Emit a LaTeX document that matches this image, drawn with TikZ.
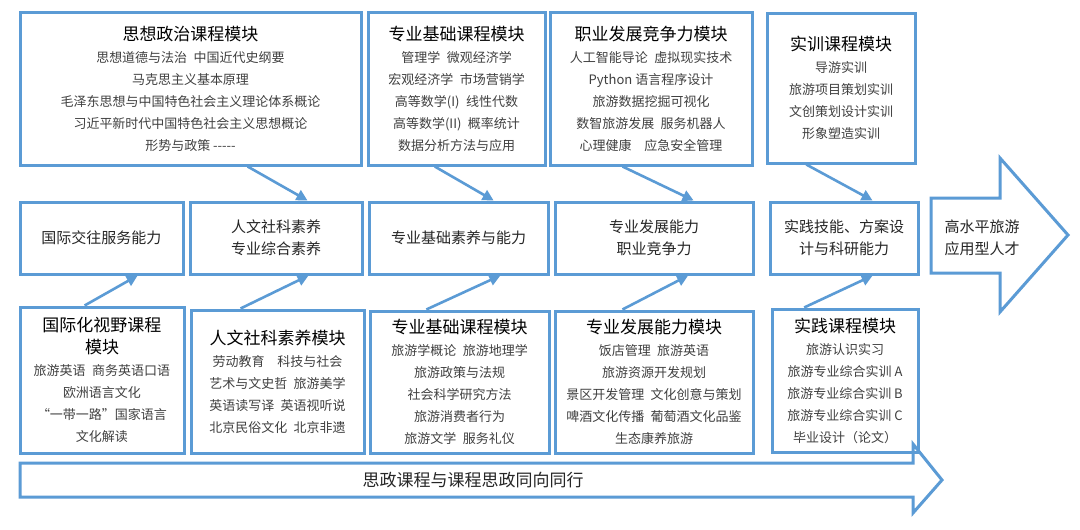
\documentclass[tikz,border=0pt]{standalone}
\usepackage{fontspec}
\setmainfont{Noto Sans CJK SC}
\usetikzlibrary{arrows.meta}
\usetikzlibrary{calc}

\definecolor{modblue}{RGB}{91,155,213}
\definecolor{bodygray}{RGB}{64,64,64}
\newcommand\modtitle[1]{{\fontsize{17}{22}\selectfont\color{black}#1}}

\begin{document}
\begin{tikzpicture}[x = 1pt, y = -1pt,
	modbox/.style = {draw = modblue, line width = 3pt, align = center, inner sep = 0pt, text = bodygray, font = \fontsize{13}{22}\selectfont},
	abbox/.style = {draw = modblue, line width = 3pt, align = center, inner sep = 0pt, minimum height = 72pt, text = black!85, font = \fontsize{15}{22}\selectfont},
	link/.style = {draw = modblue, line width = 2.6pt, -{Triangle[length = 11pt, width = 11pt]}}]
				\fill[white] (0, 0) rectangle (1080, 530);
				\useasboundingbox (0, 0) rectangle (1080, 530);
				% top row: course modules
				\node[modbox, minimum width = 341pt, minimum height = 153pt] (polmod) at (190.5, 88.5) {\modtitle{思想政治课程模块}\\ 思想道德与法治\enspace 中国近代史纲要\\ 马克思主义基本原理\\ 毛泽东思想与中国特色社会主义理论体系概论\\ 习近平新时代中国特色社会主义思想概论\\ 形势与政策 -{}-{}-{}-{}-};
				\node[modbox, minimum width = 177pt, minimum height = 153pt] (basemod) at (456.5, 88.5) {\modtitle{专业基础课程模块}\\ 管理学\enspace 微观经济学\\ 宏观经济学\enspace 市场营销学\\ 高等数学(I)\enspace 线性代数\\ 高等数学(II)\enspace 概率统计\\ 数据分析方法与应用};
				\node[modbox, minimum width = 202pt, minimum height = 153pt] (careermod) at (651, 88.5) {\modtitle{职业发展竞争力模块}\\ 人工智能导论\enspace 虚拟现实技术\\ Python 语言程序设计\\ 旅游数据挖掘可视化\\ 数智旅游发展\enspace 服务机器人\\ 心理健康\quad 应急安全管理};
				\node[modbox, minimum width = 148pt, minimum height = 150pt] (trainmod) at (841, 88) {\modtitle{实训课程模块}\\ 导游实训\\ 旅游项目策划实训\\ 文创策划设计实训\\ 形象塑造实训};
				% middle row: abilities
				\node[abbox, minimum width = 163pt] (intlab) at (101.5, 238) {国际交往服务能力};
				\node[abbox, minimum width = 172pt] (humab) at (276, 238) {人文社科素养\\ 专业综合素养};
				\node[abbox, minimum width = 179pt] (baseab) at (458.5, 238) {专业基础素养与能力};
				\node[abbox, minimum width = 198pt] (devab) at (654, 238) {专业发展能力\\ 职业竞争力};
				\node[abbox, minimum width = 148pt] (pracab) at (844, 238) {实践技能、方案设\\ 计与科研能力};
				% bottom row: course modules
				\node[modbox, minimum width = 164pt, minimum height = 146pt] (intlmod) at (102, 380) {\modtitle{国际化视野课程}\\ \modtitle{模块}\\ 旅游英语\enspace 商务英语口语\\ 欧洲语言文化\\ “一带一路”国家语言\\ 文化解读};
				\node[modbox, minimum width = 173pt, minimum height = 143pt] (hummod) at (277.5, 381.5) {\modtitle{人文社科素养模块}\\ 劳动教育\quad 科技与社会\\ 艺术与文史哲\enspace 旅游美学\\ 英语读写译\enspace 英语视听说\\ 北京民俗文化\enspace 北京非遗};
				\node[modbox, minimum width = 179pt, minimum height = 142pt] (profmod) at (459.5, 382) {\modtitle{专业基础课程模块}\\ 旅游学概论\enspace 旅游地理学\\ 旅游政策与法规\\ 社会科学研究方法\\ 旅游消费者行为\\ 旅游文学\enspace 服务礼仪};
				\node[modbox, minimum width = 198pt, minimum height = 142pt] (devmod) at (654, 382) {\modtitle{专业发展能力模块}\\ 饭店管理\enspace 旅游英语\\ 旅游资源开发规划\\ 景区开发管理\enspace 文化创意与策划\\ 啤酒文化传播\enspace 葡萄酒文化品鉴\\ 生态康养旅游};
				\node[modbox, minimum width = 146pt, minimum height = 143pt] (pracmod) at (845, 380.5) {\modtitle{实践课程模块}\\ 旅游认识实习\\ 旅游专业综合实训 A\\ 旅游专业综合实训 B\\ 旅游专业综合实训 C\\ 毕业设计（论文）};
				% goal arrow
				\draw[modblue, line width = 3pt, line join = miter] (931, 198) -- (1000, 198) -- (1000, 158) -- (1068, 235) -- (1000, 312) -- (1000, 273) -- (931, 273) -- cycle;
				\node[align = center, font = \fontsize{15}{22}\selectfont, text = black!85] (goal) at (982, 238) {高水平旅游\\ 应用型人才};
				% bottom bar arrow
				\draw[modblue, line width = 3pt, line join = miter] (20, 463) -- (913, 463) -- (913, 444) -- (942, 480) -- (913, 513) -- (913, 497) -- (20, 497) -- cycle;
				\node[font = \fontsize{17}{22}\selectfont, text = black!85] (bar) at (473, 480) {思政课程与课程思政同向同行};
				% links from top modules
				\draw[link] ($(polmod.south west)!.666!(polmod.south east)$) -- ($(humab.north west)!.68!(humab.north east)$);
				\draw[link] ($(basemod.south west)!.379!(basemod.south east)$) -- ($(baseab.north west)!.693!(baseab.north east)$);
				\draw[link] ($(careermod.south west)!.361!(careermod.south east)$) -- ($(devab.north west)!.697!(devab.north east)$);
				\draw[link] ($(trainmod.south west)!.27!(trainmod.south east)$) -- ($(pracab.north west)!.689!(pracab.north east)$);
				% links from bottom modules
				\draw[link] ($(intlmod.north west)!.396!(intlmod.north east)$) -- ($(intlab.south west)!.718!(intlab.south east)$);
				\draw[link] ($(hummod.north west)!.29!(hummod.north east)$) -- ($(humab.south west)!.686!(humab.south east)$);
				\draw[link] ($(profmod.north west)!.318!(profmod.north east)$) -- ($(baseab.south west)!.73!(baseab.south east)$);
				\draw[link] ($(devmod.north west)!.343!(devmod.north east)$) -- ($(devab.south west)!.67!(devab.south east)$);
				\draw[link] ($(pracmod.north west)!.226!(pracmod.north east)$) -- ($(pracab.south west)!.69!(pracab.south east)$);
			\end{tikzpicture}
\end{document}
